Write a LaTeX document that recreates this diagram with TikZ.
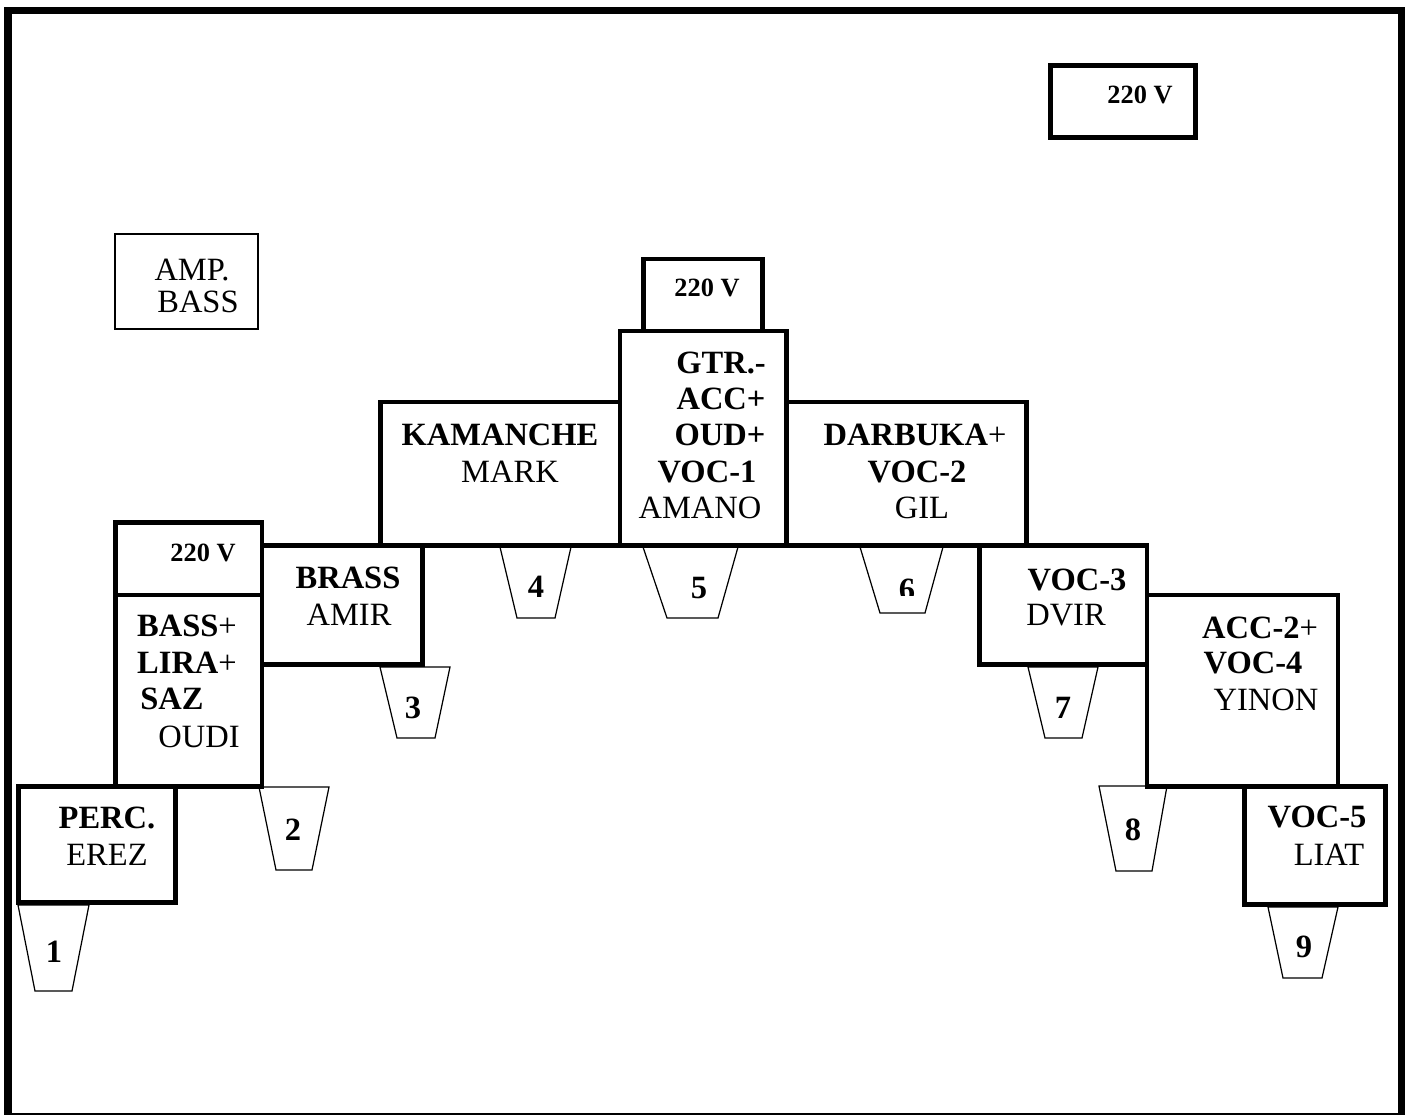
\documentclass[tikz,border=0pt]{standalone}
\usepackage{fontspec}
\setmainfont{Liberation Serif}

\begin{document}
\begin{tikzpicture}[x=0.02cm, y=-0.02cm,
    frame/.style={line width=4.3pt, line join=miter},
    box/.style={line width=2.8pt, line join=miter},
    thinbox/.style={line width=0.85pt},
    wedge/.style={line width=0.7pt},
    inst/.style={inner sep=0pt, font=\fontsize{18.5}{20}\selectfont\bfseries},
    who/.style={inner sep=0pt, font=\fontsize{18.5}{20}\selectfont},
    volt/.style={inner sep=0pt, font=\fontsize{15}{17}\selectfont\bfseries}
]
\useasboundingbox (0,0) rectangle (1406,1115);

% stage frame
\draw[frame] (8,1115) -- (8,10.5) -- (1401.5,10.5) -- (1401.5,1115);
\draw[thinbox] (8,1114) -- (1401.5,1114);

% power and amp
\draw[box] (1050.5,65.5) rectangle (1195.5,137.5);
\node[volt] (pwr-r) at (1140,95) {220 V};
\draw[thinbox] (115,234) rectangle (258,329);
\node[who] (amp-a) at (192,270) {AMP.};
\node[who] (amp-b) at (198,302) {BASS};

% centre
\draw[box] (643.5,259) rectangle (762.5,331);
\node[volt] (pwr-c) at (707,288) {220 V};
\draw[box] (620,331) rectangle (786.5,545.5);
\node[inst] (gtr-a) at (721,363) {GTR.-};
\node[inst] (gtr-b) at (721,399) {ACC+};
\node[inst] (gtr-c) at (720,435) {OUD+};
\node[inst] (gtr-d) at (707,472) {VOC-1};
\node[who] (gtr-e) at (700,508) {AMANO};

\draw[box] (380.5,402) rectangle (620,545.5);
\node[inst] (kam-a) at (500,435) {KAMANCHE};
\node[who] (kam-b) at (510,472) {MARK};

\draw[box] (786.5,402) rectangle (1026.5,545.5);
\node[inst] (dar-a) at (915,435) {DARBUKA\normalfont+};
\node[inst] (dar-b) at (917,472) {VOC-2};
\node[who] (dar-c) at (922,508) {GIL};

% left side
\draw[box] (262,545.5) rectangle (422.5,664.5);
\node[inst] (brs-a) at (348,578) {BRASS};
\node[who] (brs-b) at (349,615) {AMIR};

\draw[box] (115.5,522.5) rectangle (262,595);
\node[volt] (pwr-l) at (203,553) {220 V};
\draw[box] (115.5,595) rectangle (262,786.5);
\node[inst] (bas-a) at (187,626) {BASS\normalfont+};
\node[inst] (bas-b) at (187,663) {LIRA\normalfont+};
\node[inst] (bas-c) at (172,699) {SAZ};
\node[who] (bas-d) at (199,737) {OUDI};

\draw[box] (18.5,786.5) rectangle (175.5,902.5);
\node[inst] (prc-a) at (107,818) {PERC.};
\node[who] (prc-b) at (107,855) {EREZ};

% right side
\draw[box] (979.5,545.5) rectangle (1147,664.5);
\node[inst] (voc3-a) at (1077,580) {VOC-3};
\node[who] (voc3-b) at (1066,615) {DVIR};

\draw[box] (1147,595) rectangle (1338,786.5);
\node[inst] (acc-a) at (1260,628) {ACC-2\normalfont+};
\node[inst] (acc-b) at (1253,663) {VOC-4};
\node[who] (acc-c) at (1266,700) {YINON};

\draw[box] (1244.5,786.5) rectangle (1385.5,904.5);
\node[inst] (voc5-a) at (1317,817) {VOC-5};
\node[who] (voc5-b) at (1329,855) {LIAT};

% monitors
\draw[wedge] (18,905) -- (89,905) -- (72,991) -- (35,991) -- cycle;
\node[inst] (mon1) at (54,952) {1};
\draw[wedge] (259,787) -- (329,787) -- (312,870) -- (276,870) -- cycle;
\node[inst] (mon2) at (293,830) {2};
\draw[wedge] (380,667) -- (450,667) -- (435,738) -- (397,738) -- cycle;
\node[inst] (mon3) at (413,708) {3};
\draw[wedge] (500,547) -- (571,547) -- (555,618) -- (517,618) -- cycle;
\node[inst] (mon4) at (536,587) {4};
\draw[wedge] (643,547) -- (738,547) -- (718,618) -- (667,618) -- cycle;
\node[inst] (mon5) at (699,588) {5};
\draw[wedge] (860,547) -- (943,547) -- (925,613) -- (880,613) -- cycle;
\begin{scope}
  \clip (860,547) rectangle (943,595);
  \node[inst] (mon6) at (907,590) {6};
\end{scope}
\draw[wedge] (1028,667) -- (1098,667) -- (1082,738) -- (1045,738) -- cycle;
\node[inst] (mon7) at (1063,708) {7};
\draw[wedge] (1099,786) -- (1167,786) -- (1152,871) -- (1116,871) -- cycle;
\node[inst] (mon8) at (1133,830) {8};
\draw[wedge] (1268,907) -- (1338,907) -- (1322,978) -- (1283,978) -- cycle;
\node[inst] (mon9) at (1304,947) {9};
\end{tikzpicture}
\end{document}
